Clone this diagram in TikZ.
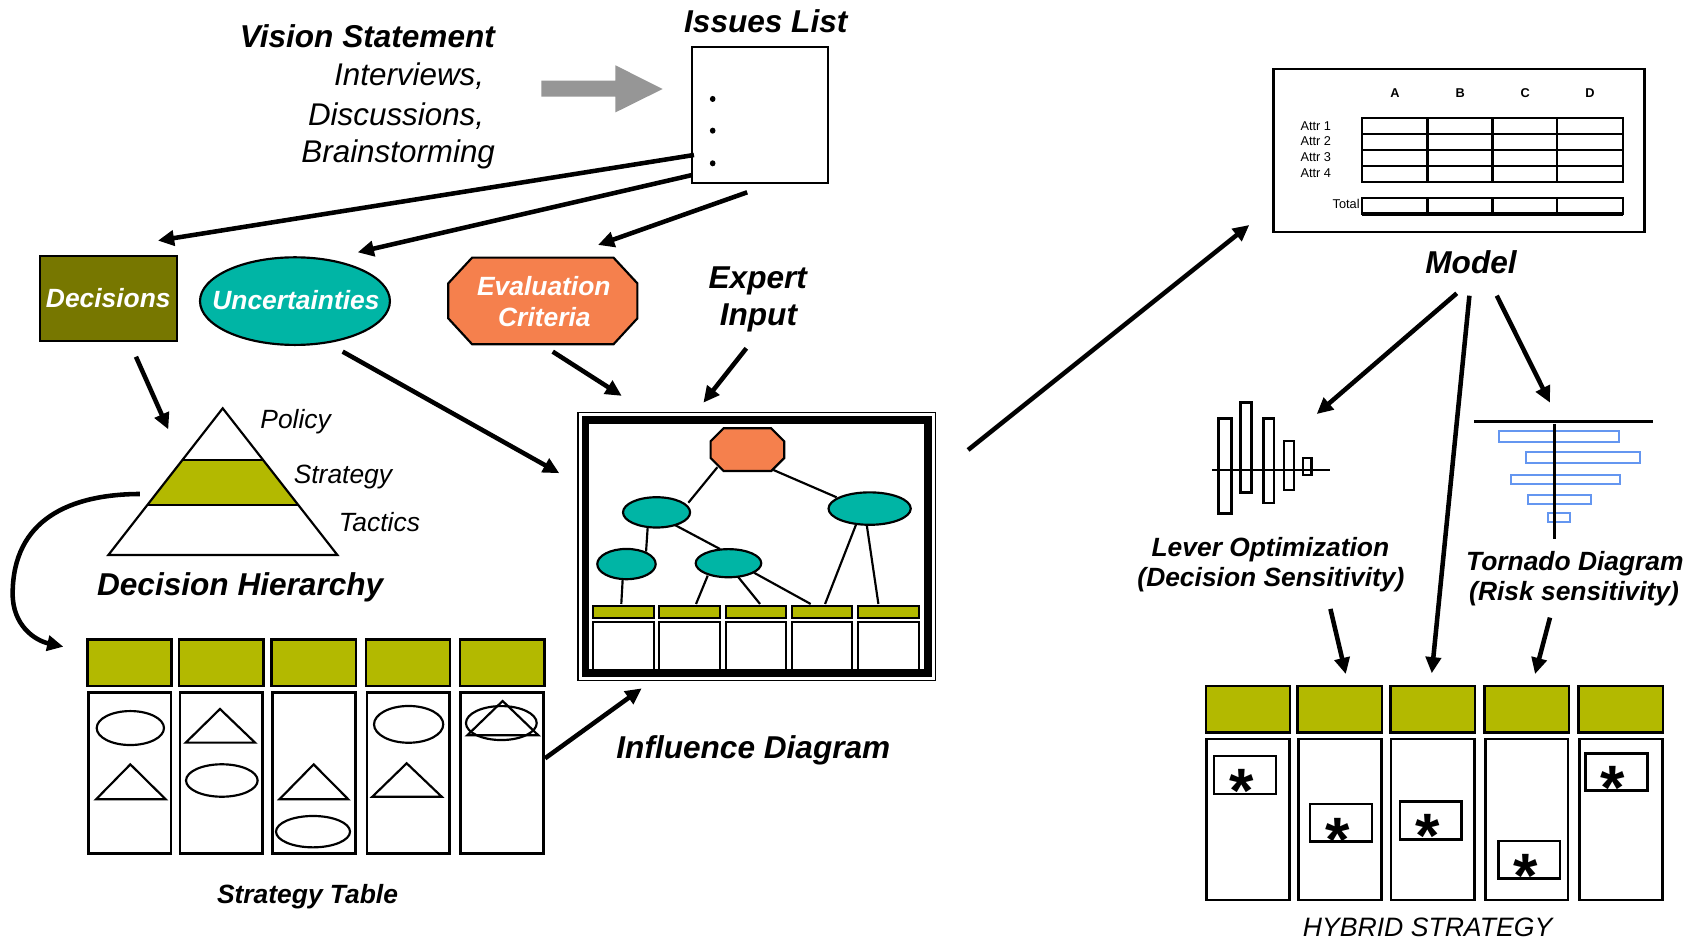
\documentclass[tikz,border=0pt]{standalone}
\usepackage{fontspec}
\setmainfont{Liberation Sans}
\usetikzlibrary{arrows.meta}

\definecolor{oliveD}{RGB}{119,119,0}
\definecolor{oliveL}{RGB}{179,185,0}
\definecolor{tealC}{RGB}{0,181,165}
\definecolor{orangeC}{RGB}{245,128,77}
\definecolor{grayA}{RGB}{150,150,150}
\definecolor{tornBlue}{RGB}{100,150,240}

\begin{document}
\begin{tikzpicture}[x=0.5pt,y=-0.5pt,
  bigbi/.style={font=\fontsize{14.6}{17}\selectfont\bfseries\itshape,inner sep=0},
  bigit/.style={font=\fontsize{14.5}{17}\selectfont\itshape,inner sep=0},
  midbi/.style={font=\fontsize{12.2}{14}\selectfont\bfseries\itshape,inner sep=0},
  midit/.style={font=\fontsize{12.2}{14}\selectfont\itshape,inner sep=0},
  smalllab/.style={font=\fontsize{5.9}{7}\selectfont,inner sep=0},
  smallbold/.style={font=\fontsize{5.9}{7}\selectfont\bfseries,inner sep=0},
  starmark/.style={font=\fontsize{29}{30}\selectfont\bfseries,inner sep=0,anchor=base},
  conn/.style={line width=2.1pt,-{Triangle[length=7.5pt,width=7pt]}},
  outline/.style={draw=black,line width=1pt},
  cellhead/.style={draw=black,fill=oliveL,line width=1.2pt},
  cellbody/.style={draw=black,fill=white,line width=1.2pt},
  shapeline/.style={draw=black,line width=1pt},
  idlink/.style={draw=black,line width=1pt},
]
\fill[white] (0,0) rectangle (1568,870);
\useasboundingbox (0,0) rectangle (1568,870);

% ---------- sources of the issues list ----------
\node[bigbi,anchor=base east] (vision) at (458,44) {Vision Statement};
\node[bigit,anchor=base east] (intv) at (448,79.5) {Interviews,};
\node[bigit,anchor=base east] (disc) at (448,115.6) {Discussions,};
\node[bigit,anchor=base east] (brain) at (458,150) {Brainstorming};
\fill[grayA] (500.6,74.6) -- (569,74.6) -- (569,60.4) -- (612.6,82.3)
  -- (569,103.9) -- (569,89.4) -- (500.6,89.4) -- cycle;

% ---------- issues list ----------
\node[bigbi,anchor=base] (isstitle) at (708,29.9) {Issues List};
\node[outline,fill=white,minimum width=62.9pt,minimum height=62.9pt,inner sep=0] (issues) at (702.9,106) {};
\foreach \yy in {91.5,120.8,151} \fill (658.9,\yy) ellipse [x radius=2.6, y radius=2.8];

% ---------- decisions, uncertainties, criteria ----------
\node[outline,fill=oliveD,minimum width=63.15pt,minimum height=39.3pt,inner sep=0,
  text=white,font=\fontsize{12.2}{14}\selectfont\bfseries\itshape] (dec) at (100.15,275.7) {Decisions};
\draw[outline,fill=tealC] (272.7,278.4) ellipse [x radius=87.8, y radius=40.5];
\node[midbi,text=white,anchor=base] (unc) at (273.6,286.6) {Uncertainties};
\draw[outline,fill=orangeC] (436.5,238.2) -- (567.2,238.2) -- (589.3,262) -- (589.3,294.3)
  -- (567.2,318.3) -- (436.5,318.3) -- (414.4,294.3) -- (414.4,262) -- cycle;
\node[midbi,text=white,anchor=base] (eval1) at (502.8,273.2) {Evaluation};
\node[midbi,text=white,anchor=base] (eval2) at (503.3,301.6) {Criteria};
\node[bigbi,anchor=base] (expert1) at (700.6,266.6) {Expert};
\node[bigbi,anchor=base] (expert2) at (701.2,300.5) {Input};

% ---------- decision hierarchy ----------
\fill[oliveL] (168.6,425.3) -- (243.2,425.3) -- (275.6,466.9) -- (136.2,466.9) -- cycle;
\draw[outline] (168.6,425.3) -- (243.2,425.3) (136.2,466.9) -- (275.6,466.9);
\draw[outline] (205.9,377.5) -- (311.9,513.1) -- (100.2,513.1) -- cycle;
\coordinate (pyr) at (205.9,445);
\node[midit,anchor=base west] (policy) at (240.4,396) {Policy};
\node[midit,anchor=base west] (strat) at (271.2,446.9) {Strategy};
\node[midit,anchor=base west] (tact) at (312.8,491.6) {Tactics};
\node[bigbi,anchor=base west] (dh) at (89.4,551) {Decision Hierarchy};

% ---------- strategy table ----------
\foreach \a/\b in {80.7/158.7,165.5/243.5,251.2/329.1,338.4/416.1,425.3/503.3}
  \draw[cellhead] (\a,591.5) rectangle (\b,634.3);
\foreach \a/\b in {81.7/158.1,166.4/242.9,252.1/328.5,339.3/415.4,425.9/502.3}
  \draw[cellbody] (\a,640.1) rectangle (\b,789);
\draw[shapeline] (120.5,673.1) ellipse [x radius=31.1, y radius=15.7];
\draw[shapeline] (120.5,706.7) -- (153.2,739) -- (88.8,739) -- cycle;
\draw[shapeline] (203.4,655.5) -- (235.8,686.6) -- (171.7,686.6) -- cycle;
\draw[shapeline] (205.1,721.6) ellipse [x radius=33.1, y radius=15];
\draw[shapeline] (290,706.7) -- (322,739) -- (258.3,739) -- cycle;
\draw[shapeline] (289.4,768.9) ellipse [x radius=34.2, y radius=14.5];
\draw[shapeline] (377.8,669.7) ellipse [x radius=32, y radius=17];
\draw[shapeline] (376,705.7) -- (408.4,736.6) -- (344.2,736.6) -- cycle;
\draw[shapeline] (463.5,668.5) ellipse [x radius=32.7, y radius=15.7];
\draw[shapeline] (464.7,648.1) -- (497.7,679.8) -- (432,679.8) -- cycle;
\node[midbi,anchor=base west] (sttitle) at (200.3,835.2) {Strategy Table};

% ---------- influence diagram ----------
\foreach \a/\b in {548.6/605,609.6/665.7,671/726.7,732/788,793/849.4}{
  \draw[idlink,fill=white] (\a,575.4) rectangle (\b,622);
  \draw[idlink,fill=oliveL] (\a,560.3) rectangle (\b,571.4);
}
\draw[line width=0.6pt] (534.3,381.2) rectangle (864.8,629.3);
\draw[line width=3.55pt] (541.3,388) rectangle (858,622.2);
\node[inner sep=0,minimum width=158pt,minimum height=117pt] (infl) at (699.6,505.1) {};
\draw[idlink] (663.2,432) -- (636.4,464.8);
\draw[idlink] (715,434.5) -- (773.5,459.8);
\draw[idlink] (598.8,487.5) -- (597.3,510);
\draw[idlink] (624,485.4) -- (665.7,507.6);
\draw[idlink] (575.7,535.3) -- (574.4,558.4);
\draw[idlink] (654.3,532.2) -- (643.5,558.4);
\draw[idlink] (682,532.9) -- (702.7,558.4);
\draw[idlink] (697.1,529.5) -- (749.5,558.4);
\draw[idlink] (791.4,485.1) -- (762.8,558.4);
\draw[idlink] (801.3,485.1) -- (812.1,558.4);
\draw[idlink,fill=orangeC] (669,396) -- (713,396) -- (725,408) -- (725,423.5)
  -- (713,435.5) -- (669,435.5) -- (657,423.5) -- (657,408) -- cycle;
\draw[idlink,fill=tealC] (607,473.7) ellipse [x radius=31, y radius=14];
\draw[idlink,fill=tealC] (804,470.2) ellipse [x radius=38, y radius=15];
\draw[idlink,fill=tealC] (579.2,521.5) ellipse [x radius=27, y radius=14];
\draw[idlink,fill=tealC] (673.5,520.7) ellipse [x radius=30.3, y radius=13];
\node[bigbi,anchor=base] (idtitle) at (696.5,701.5) {Influence Diagram};

% ---------- model ----------
\node[outline,minimum width=171.5pt,minimum height=75.1pt,inner sep=0] (model) at (1348.8,139.1) {};
\draw[outline] (1259.5,109.1) rectangle (1500.3,168.3);
\foreach \yy in {123.9,138.7,153.5} \draw[outline] (1259.5,\yy) -- (1500.3,\yy);
\foreach \xx in {1319.7,1379.8,1439.8} \draw[outline] (\xx,109.1) -- (\xx,168.3);
\draw[outline] (1259.5,183.4) rectangle (1500.3,198.1);
\draw[line width=1.8pt] (1259.5,197.6) -- (1500.3,197.6);
\foreach \xx in {1319.7,1379.8,1439.8} \draw[outline] (\xx,183.4) -- (\xx,198.1);
\foreach \t/\xx in {A/1289.8,B/1349.9,C/1410,D/1470}
  \node[smallbold,anchor=base] at (\xx,90.3) {\t};
\foreach \t/\yy in {1/120.2,2/134.7,3/149.5,4/164.3}
  \node[smalllab,anchor=base west] at (1202,\yy) {Attr \t};
\node[smalllab,anchor=base east] (totlab) at (1257.4,192.9) {Total};
\node[bigbi,anchor=base] (modeltitle) at (1360,252.7) {Model};

% ---------- lever optimization chart ----------
\foreach \a/\b/\c/\d in {1126.4/386.8/1138.7/474.6,1146.8/372/1156.9/455.2,
    1168/386.8/1177.6/465.3,1187.1/408/1196.4/453,1204.4/423.2/1212.4/439.2}
  \draw[line width=1.1pt] (\a,\b) rectangle (\c,\d);
\draw[line width=1.2pt] (1120.6,434.5) -- (1229.7,434.5);
\coordinate (lever) at (1174.5,430);
\node[midbi,anchor=base] (lev1) at (1174.5,514.7) {Lever Optimization};
\node[midbi,anchor=base] (lev2) at (1175,542.6) {(Decision Sensitivity)};

% ---------- tornado chart ----------
\foreach \a/\b/\c/\d in {1385.9/398.2/1497.1/409,1410.9/418.2/1516.6/428.1,
    1397/439.2/1497.8/447.8,1412.7/457.7/1471/466.3,1431/474.6/1451.6/482.3}
  \draw[draw=tornBlue,line width=0.9pt] (\a,\b) rectangle (\c,\d);
\draw[line width=1.2pt] (1362.8,389.5) -- (1528,389.5);
\draw[line width=1.2pt] (1437.4,392) -- (1437.4,498.6);
\node[midbi,anchor=base] (torn1) at (1456,527.5) {Tornado Diagram};
\node[midbi,anchor=base] (torn2) at (1455.3,555.5) {(Risk sensitivity)};

% ---------- hybrid strategy ----------
\foreach \a/\b in {1115/1192.7,1199.8/1277.8,1285.4/1363.7,1372.3/1450.6,1459.6/1537.5}
  \draw[cellhead] (\a,634.3) rectangle (\b,677.4);
\foreach \a/\b in {1115.6/1192.4,1200.5/1277.3,1286/1363.2,1373.2/1449.7,1460.2/1537}
  \draw[cellbody] (\a,683.3) rectangle (\b,832.1);
\foreach \a/\b/\c/\d/\sx/\sy in {1122.4/699/1179.7/734.1/1148/751.6,
    1211.2/743.3/1268.5/778.2/1236.4/796.3,
    1294.4/741.2/1351.4/776/1319.6/793.2,
    1385.3/777.6/1442.3/812.4/1410.9/830.2,
    1465.7/696.5/1523/731/1491/748.5}{
  \draw[line width=1.2pt] (\a,\b) rectangle (\c,\d);
  \node[starmark] at (\sx,\sy) {*};
}
\node[font=\fontsize{12.3}{14}\selectfont\itshape,inner sep=0,anchor=base] (hybrid) at (1319.8,866) {HYBRID STRATEGY};

% ---------- connectors ----------
\coordinate (i1) at (641.6,143.3);  \coordinate (decIn) at (146,222.5);
\coordinate (i2) at (640,161.8);    \coordinate (uncIn) at (330.7,233.3);
\coordinate (i3) at (690.8,177.8);  \coordinate (evalIn) at (552.9,226.5);
\draw[conn] (i1) -- (decIn);
\draw[conn] (i2) -- (uncIn);
\draw[conn] (i3) -- (evalIn);

\coordinate (decOut) at (125.7,329.8);  \coordinate (pyrIn) at (155.6,397);
\draw[conn] (decOut) -- (pyrIn);
\coordinate (uncOut) at (316.8,325.1);  \coordinate (idIn1) at (517.1,437.5);
\draw[conn] (uncOut) -- (idIn1);
\coordinate (evalOut) at (511,325.1);   \coordinate (idIn2) at (574.8,366);
\draw[conn] (evalOut) -- (idIn2);
\coordinate (expOut) at (690,322);      \coordinate (idIn3) at (650.3,372.3);
\draw[conn] (expOut) -- (idIn3);
\coordinate (stOut) at (503.9,701.1);   \coordinate (idIn4) at (593.3,636.4);
\draw[conn] (stOut) -- (idIn4);
\coordinate (idOut) at (895,416);       \coordinate (modelIn) at (1155,208);
\draw[conn] (idOut) -- (modelIn);

\coordinate (dhOut) at (129.4,456.7);   \coordinate (stIn) at (58.6,597.9);
\draw[conn] (dhOut) .. controls (65,457) and (12,480) .. (11.7,548.6)
  .. controls (11.5,578) and (32,592) .. (stIn);

\coordinate (m1) at (1346.8,271.2);  \coordinate (levIn) at (1217.3,382.8);
\coordinate (m2) at (1358.5,273.4);  \coordinate (hybIn2) at (1323.7,622.5);
\coordinate (m3) at (1383.8,273.4);  \coordinate (tornIn) at (1433,372.3);
\draw[conn] (m1) -- (levIn);
\draw[conn] (m2) -- (hybIn2);
\draw[conn] (m3) -- (tornIn);
\coordinate (levOut) at (1230,563);   \coordinate (hybIn1) at (1244.2,623.2);
\coordinate (tornOut) at (1433,571);  \coordinate (hybIn3) at (1419.2,623.2);
\draw[conn] (levOut) -- (hybIn1);
\draw[conn] (tornOut) -- (hybIn3);
\end{tikzpicture}
\end{document}
